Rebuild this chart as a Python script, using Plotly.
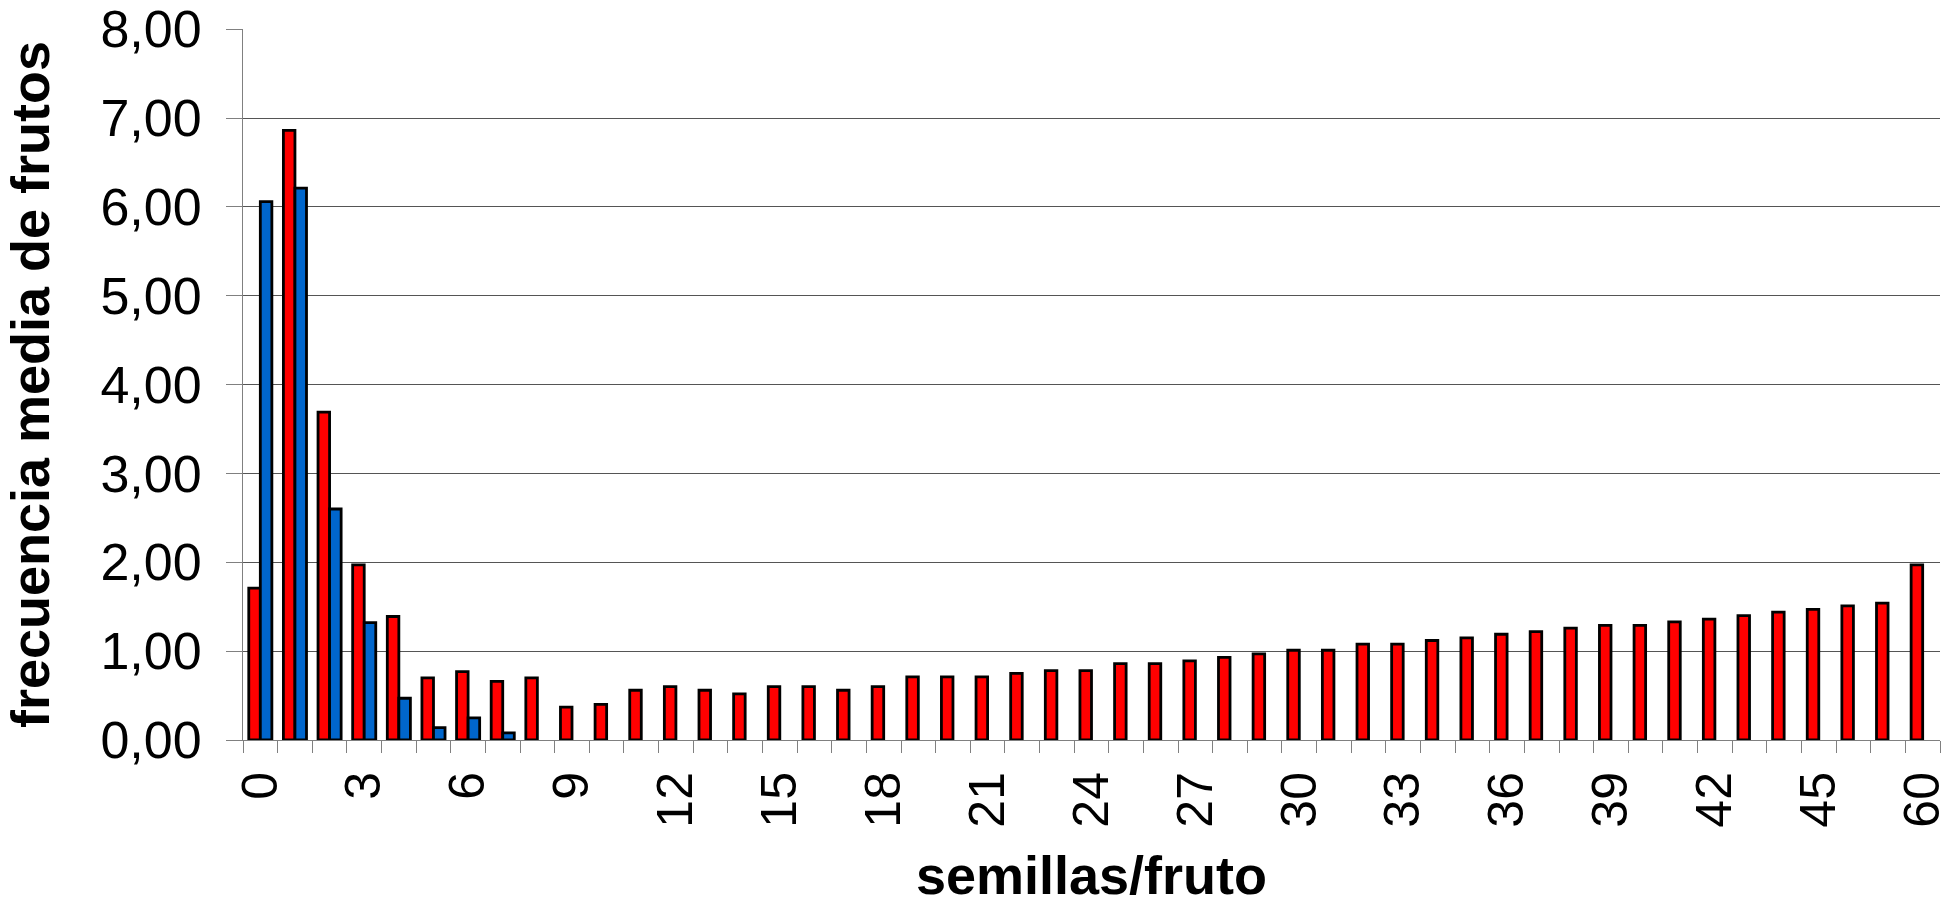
import plotly.graph_objects as go

# categories (seeds per fruit)
categorias = [str(i) for i in range(48)] + ["60"]

serie_roja = [1.71, 6.86, 3.69, 1.97, 1.39, 0.70, 0.77, 0.66, 0.70, 0.37,
              0.40, 0.56, 0.60, 0.56, 0.52, 0.60, 0.60, 0.56, 0.60, 0.71,
              0.71, 0.71, 0.75, 0.78, 0.78, 0.86, 0.86, 0.89, 0.93, 0.97,
              1.01, 1.01, 1.08, 1.08, 1.12, 1.15, 1.19, 1.22, 1.26, 1.29,
              1.29, 1.33, 1.36, 1.40, 1.44, 1.47, 1.51, 1.54, 1.97]

serie_azul = [6.06, 6.21, 2.60, 1.32, 0.47, 0.14, 0.25, 0.08] + [None] * 41

etiquetas_y = [0, 1, 2, 3, 4, 5, 6, 7, 8]
paso_etiqueta_x = 3

pos = list(range(len(categorias)))
tick_pos = pos[::paso_etiqueta_x]
tick_txt = categorias[::paso_etiqueta_x]

fig = go.Figure()
fig.add_trace(go.Bar(x=pos, y=serie_roja, marker=dict(color="#FF0000", line=dict(color="black", width=2.8)),
                     showlegend=False))
fig.add_trace(go.Bar(x=pos, y=serie_azul, marker=dict(color="#0066CC", line=dict(color="black", width=2.8)),
                     showlegend=False))

font_family = "Liberation Sans"

fig.update_layout(
    template="none",
    width=1959, height=905,
    margin=dict(l=243, r=19, t=29, b=165),
    paper_bgcolor="white", plot_bgcolor="white",
    barmode="group", bargap=0.333, bargroupgap=0,
    separators=",.",
    font=dict(family=font_family, color="black"),
    xaxis=dict(
        automargin=False,
        range=[-0.5, len(categorias) - 0.5],
        tickmode="array", tickvals=tick_pos, ticktext=tick_txt,
        tickangle=-90, tickfont=dict(size=50),
        ticks="outside", ticklen=11, tickcolor="rgba(0,0,0,0)",
        minor=dict(tickmode="linear", tick0=-0.5, dtick=1, ticks="outside", ticklen=12,
                   tickcolor="#808080", tickwidth=1, showgrid=False),
        showgrid=False, zeroline=False,
        showline=True, linecolor="#808080", linewidth=1,
        title=dict(text="<b>semillas/fruto</b>", font=dict(size=54), standoff=42),
    ),
    yaxis=dict(
        automargin=False,
        range=[0, 8.002], tickmode="array", tickvals=etiquetas_y,
        tickformat=".2f", tickfont=dict(size=52),
        ticks="outside", ticklen=16, tickcolor="#808080", tickwidth=1,
        showgrid=True, gridcolor="#555555", gridwidth=1,
        zeroline=False, showline=True, linecolor="#808080", linewidth=1,
        ticklabelstandoff=14,
        title=dict(text="<b>frecuencia media de frutos</b>", font=dict(size=54), standoff=35),
    ),
)

fig.write_html(
    "out.html",
    config={"displayModeBar": False},
    post_script="document.body.style.margin='0';document.body.style.overflow='hidden';",
)
